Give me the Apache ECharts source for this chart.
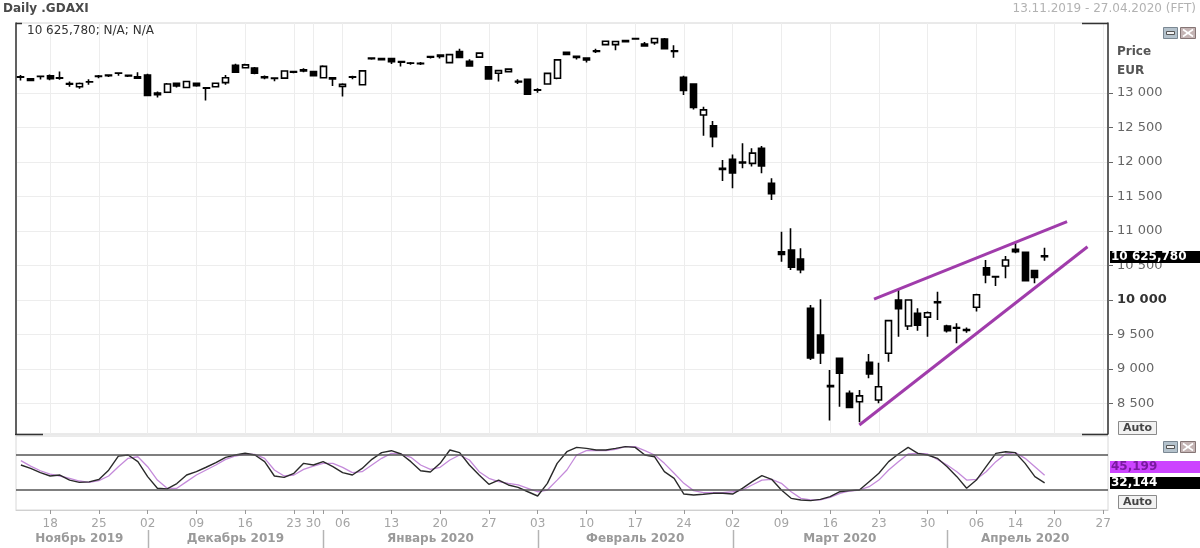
<!DOCTYPE html>
<html><head><meta charset="utf-8">
<script src="https://cdn.jsdelivr.net/npm/echarts@6/dist/echarts.min.js"></script>
<style>html,body{margin:0;padding:0;background:#fff}#c{width:1200px;height:548px}</style>
</head><body><div id="c"></div>
<script>
// ---- categories: Xetra trading days (incl. empty future days to 27.04.2020)
const dates = [
'2019-11-13','2019-11-14','2019-11-15','2019-11-18','2019-11-19','2019-11-20','2019-11-21','2019-11-22','2019-11-25','2019-11-26','2019-11-27','2019-11-28','2019-11-29',
'2019-12-02','2019-12-03','2019-12-04','2019-12-05','2019-12-06','2019-12-09','2019-12-10','2019-12-11','2019-12-12','2019-12-13','2019-12-16','2019-12-17','2019-12-18','2019-12-19','2019-12-20','2019-12-23','2019-12-27','2019-12-30',
'2020-01-02','2020-01-03','2020-01-06','2020-01-07','2020-01-08','2020-01-09','2020-01-10','2020-01-13','2020-01-14','2020-01-15','2020-01-16','2020-01-17','2020-01-20','2020-01-21','2020-01-22','2020-01-23','2020-01-24','2020-01-27','2020-01-28','2020-01-29','2020-01-30','2020-01-31',
'2020-02-03','2020-02-04','2020-02-05','2020-02-06','2020-02-07','2020-02-10','2020-02-11','2020-02-12','2020-02-13','2020-02-14','2020-02-17','2020-02-18','2020-02-19','2020-02-20','2020-02-21','2020-02-24','2020-02-25','2020-02-26','2020-02-27','2020-02-28',
'2020-03-02','2020-03-03','2020-03-04','2020-03-05','2020-03-06','2020-03-09','2020-03-10','2020-03-11','2020-03-12','2020-03-13','2020-03-16','2020-03-17','2020-03-18','2020-03-19','2020-03-20','2020-03-23','2020-03-24','2020-03-25','2020-03-26','2020-03-27','2020-03-30','2020-03-31',
'2020-04-01','2020-04-02','2020-04-03','2020-04-06','2020-04-07','2020-04-08','2020-04-09','2020-04-14','2020-04-15','2020-04-16','2020-04-17','2020-04-20','2020-04-21','2020-04-22','2020-04-23','2020-04-24','2020-04-27'
];
// ---- OHLC (Nov 13 .. Apr 17)
const opens = [13236,13205,13238,13250,13215,13135,13090,13160,13240,13250,13285,13255,13215,
13260,13000,13010,13140,13080,13140,13075,13090,13150,13400,13365,13360,13235,13215,13215,13310,13320,13310,
13220,13205,13095,13235,13120,13505,13500,13500,13445,13430,13425,13520,13530,13440,13600,13460,13520,13380,13285,13310,13170,13198,
13040,13130,13213,13590,13530,13505,13600,13700,13700,13760,13790,13710,13730,13780,13610,13228,13130,12680,12526,11910,
12040,11985,11980,12200,11691,10700,10725,10594,9880,9493,8760,9155,8648,8526,9097,8551,9228,10000,9623,9807,9751,9975,
9623,9590,9570,9894,10468,10333,10493,10734,10691,10425,10640];
const highs = [13262,13215,13245,13268,13310,13165,13150,13200,13260,13272,13290,13262,13300,
13280,13020,13145,13150,13175,13150,13080,13150,13260,13425,13425,13375,13255,13220,13325,13320,13360,13320,
13400,13225,13140,13250,13330,13510,13510,13505,13465,13450,13450,13540,13555,13560,13640,13490,13590,13390,13335,13355,13200,13205,
13070,13290,13485,13600,13532,13510,13640,13755,13750,13765,13795,13740,13795,13795,13690,13250,13140,12800,12594,12030,
12110,12270,12200,12232,11764,10990,11039,10749,9928,10010,8986,9160,8690,8696,9217,9091,9710,10155,10010,9880,9832,10120,
9640,9662,9600,10090,10580,10348,10638,10845,10700,10425,10758];
const lows = [13180,13170,13195,13185,13190,13090,13060,13120,13215,13230,13250,13230,13205,
12955,12935,13000,13080,13070,13090,12890,13080,13120,13290,13355,13270,13200,13170,13205,13285,13300,13240,
13210,13100,12948,13200,13110,13480,13470,13420,13385,13410,13405,13500,13500,13430,13510,13385,13510,13190,13165,13300,13130,12970,
13005,13120,13200,13550,13485,13440,13580,13690,13620,13735,13770,13675,13700,13630,13510,12970,12760,12380,12213,11725,
11620,11910,11933,11836,11449,10555,10435,10387,9130,9072,8255,8454,8430,8230,8865,8503,9106,9469,9565,9555,9469,9710,
9530,9372,9525,9832,10242,10203,10314,10677,10270,10242,10570];
const closes = [13230,13180,13242,13208,13221,13127,13138,13163,13247,13259,13287,13245,13236,
12965,12975,13130,13100,13166,13105,13070,13141,13221,13300,13407,13287,13222,13212,13318,13300,13337,13249,
13386,13219,13127,13227,13320,13495,13483,13452,13456,13432,13429,13526,13549,13555,13515,13390,13577,13205,13324,13345,13158,12982,
13046,13284,13479,13560,13514,13480,13610,13749,13745,13744,13783,13681,13789,13640,13600,13035,12790,12755,12367,11890,
11840,12000,12128,11944,11541,10660,10475,10438,9161,9232,8742,8939,8441,8610,8929,8742,9701,9874,10000,9633,9816,9960,
9555,9600,9560,10075,10362,10340,10580,10700,10280,10328,10625.78];
// ---- Slow stochastic (%K black, %D violet)
const stochK = [62.9,57,49.7,44,45.7,37,33,34,38,54,78,80,68.6,
43,23,22,31,45.7,51.4,59,67,76,80,83,80,68.6,44,41.7,48.6,65.7,62.9,
68.6,60,49.7,45.7,57,72.6,84,87.4,81.7,68.6,53,50.9,65.7,88.6,84,62.9,45.7,29.7,37,28.6,24.6,17,
9.7,31.4,65.7,85.7,93.1,91.4,88.6,88.6,91.4,94.3,93.1,80,77,51.4,40,13.1,11.4,12.6,14.3,14.3,
13.1,22.9,34.3,44.6,38.3,20,5.7,2.9,1.7,4,8.6,17,18.9,20,34.3,48.6,68.6,81.7,93.1,82.9,80,74.3,
60,42.9,22.9,37,60,82.9,85.7,84,65.7,42.9,32.144];
const stochD = [70.3,61,53,47.4,44,40,35.4,33,36,44,60,74.3,77,
60,37,22.9,22.9,34.3,45.7,54.3,62.9,72.6,78.3,81.7,81,74.3,54.3,44,45.7,55.4,61,
65.7,65.7,58.9,49.7,51.4,62.9,74.3,82.9,81.7,76,62.9,55.4,58.9,71.4,80,71.4,51.4,40,34.3,31.4,28.6,22.9,
17,20,37,54.3,80,87.4,87.4,87.4,89.7,94.3,94.3,87.4,80,65.7,48.6,31.4,18.9,15.4,15.4,15.4,
17,20,28.6,37,38.3,31.4,17,5.7,2.9,2.9,7.4,14.3,18.3,20,25.7,37,54.3,68.6,81.7,82.9,81.7,72.6,
62.9,51.4,37,38.3,51.4,68.6,81.7,84,74.3,60,45.199];
const stochLevels = [80, 20];
// ---- trendlines drawn on the chart: [category position, price]
const upperTrend = [[87.5, 10014], [107.3, 11135]];
const lowerTrend = [[86.0, 8188], [109.4, 10772]];
// ---- tick labels
const priceTicks = [8500, 9000, 9500, 10000, 10500, 11000, 11500, 12000, 12500, 13000];
const weekStarts = ['2019-11-18','2019-11-25','2019-12-02','2019-12-09','2019-12-16','2019-12-23','2019-12-30','2020-01-06','2020-01-13','2020-01-20','2020-01-27','2020-02-03','2020-02-10','2020-02-17','2020-02-24','2020-03-02','2020-03-09','2020-03-16','2020-03-23','2020-03-30','2020-04-06','2020-04-14','2020-04-20','2020-04-27'];
const monthStarts = ['2019-12-02','2020-01-02','2020-02-03','2020-03-02','2020-04-01'];
const monthKeys = ['2019-11','2019-12','2020-01','2020-02','2020-03','2020-04'];
const monthNames = ['Ноябрь 2019','Декабрь 2019','Январь 2020','Февраль 2020','Март 2020','Апрель 2020'];

const FONT = 'DejaVu Sans';
const weekSet = new Set(weekStarts), monthSet = new Set(monthStarts);
const monthMid = new Map();
monthKeys.forEach((k, m) => {
  const idx = []; dates.forEach((d, i) => { if (d.startsWith(k)) idx.push(i); });
  monthMid.set(Math.round((idx[0] + idx[idx.length - 1]) / 2), monthNames[m]);
});
const fmtThousands = v => String(v).replace(/\B(?=(\d{3})+(?!\d))/g, ' ');
const fmtDec = (v, d) => { const p = v.toFixed(d).split('.'); return fmtThousands(p[0]) + ',' + p[1]; };

const candles = closes.map((c, i) => [opens[i], c, lows[i], highs[i]]);

const chart = echarts.init(document.getElementById('c'));
chart.setOption({
  animation: false,
  backgroundColor: '#fff',
  grid: [
    {left: 16, right: 92, top: 23, height: 411, show: true, borderColor: '#d4d4d4', borderWidth: 1},
    {left: 16, right: 92, top: 436, height: 74, show: true, borderColor: '#d8d8d8', borderWidth: 1}
  ],
  xAxis: [
    {type: 'category', gridIndex: 0, data: dates, axisLine: {show: false, onZero: false}, axisTick: {show: false}, axisLabel: {show: false},
     splitLine: {show: true, alignWithLabel: true, interval: (i, v) => weekSet.has(v), lineStyle: {color: '#ededed'}}},
    {type: 'category', gridIndex: 1, data: dates, axisLine: {show: true, onZero: false, lineStyle: {color: '#d0d0d0'}},
     axisTick: {show: true, alignWithLabel: true, interval: (i, v) => weekSet.has(v) || monthSet.has(v), length: 4, lineStyle: {color: '#999'}},
     axisLabel: {interval: (i, v) => weekSet.has(v), formatter: v => v.slice(8), color: '#a4a4a4', fontSize: 12, fontFamily: FONT, margin: 8}},
    {type: 'value', gridIndex: 0, min: -0.5, max: dates.length - 0.5, show: false},
    {type: 'category', gridIndex: 1, data: dates, position: 'bottom', offset: 20, axisLine: {show: false, onZero: false}, axisTick: {show: false},
     axisLabel: {interval: (i) => monthMid.has(i), formatter: (v, i) => monthMid.get(i) || '', color: '#9a9a9a', fontWeight: 'bold', fontSize: 12, fontFamily: FONT, margin: 3}}
  ],
  yAxis: [
    {type: 'value', gridIndex: 0, position: 'right', min: 8058, max: 14014,
     axisLine: {show: true, onZero: false, lineStyle: {color: '#333', width: 1.5}},
     axisTick: {show: true, customValues: priceTicks, length: 5, lineStyle: {color: '#666'}},
     axisLabel: {customValues: priceTicks, margin: 9, formatter: v => v === 10000 ? '{b|' + fmtThousands(v) + '}' : '{n|' + fmtThousands(v) + '}',
       rich: {n: {color: '#666', fontSize: 13, fontFamily: FONT}, b: {color: '#333', fontSize: 13, fontWeight: 'bold', fontFamily: FONT}}},
     splitLine: {show: true, lineStyle: {color: '#ededed'}}},
    {type: 'value', gridIndex: 0, position: 'left', min: 8058, max: 14014,
     axisLine: {show: true, onZero: false, lineStyle: {color: '#333', width: 1.5}}, axisTick: {show: false}, axisLabel: {show: false}, splitLine: {show: false}},
    {type: 'value', gridIndex: 1, position: 'right', min: -14.3, max: 112.6,
     axisLine: {show: false, onZero: false}, axisTick: {show: false}, axisLabel: {show: false}, splitLine: {show: false}}
  ],
  series: [
    {type: 'candlestick', xAxisIndex: 0, yAxisIndex: 0, data: candles, barWidth: '68%',
     itemStyle: {color: '#fff', color0: '#000', borderColor: '#000', borderColor0: '#000', borderColorDoji: '#000', borderWidth: 1.6},
     emphasis: {disabled: true}},
    {type: 'line', xAxisIndex: 2, yAxisIndex: 0, data: upperTrend, symbol: 'none', lineStyle: {color: '#a03cab', width: 3}},
    {type: 'line', xAxisIndex: 2, yAxisIndex: 0, data: lowerTrend, symbol: 'none', lineStyle: {color: '#a03cab', width: 3}},
    {type: 'line', xAxisIndex: 1, yAxisIndex: 2, data: stochD, symbol: 'none', lineStyle: {color: '#c48ada', width: 1.3}},
    {type: 'line', xAxisIndex: 1, yAxisIndex: 2, data: stochK, symbol: 'none', lineStyle: {color: '#2a2a2a', width: 1.4},
     markLine: {silent: true, symbol: 'none', label: {show: false}, lineStyle: {color: '#555', width: 1.5, type: 'solid'},
       data: stochLevels.map(v => ({yAxis: v}))}}
  ]
});

// ---- decorations and value boxes
const lastClose = closes[closes.length - 1], lastK = stochK[stochK.length - 1], lastD = stochD[stochD.length - 1];
const yP = v => chart.convertToPixel({yAxisIndex: 0}, v);
const yS = v => chart.convertToPixel({yAxisIndex: 2}, v);
const xS = d => chart.convertToPixel({xAxisIndex: 1}, d);
const G = [];
const txt = (text, x, y, font, fill, align) => G.push({type: 'text', z: 100, x, y, style: {text, font, fill, align: align || 'left', verticalAlign: 'middle'}});
const line = (x1, y1, x2, y2, stroke, w) => G.push({type: 'line', z: 100, shape: {x1, y1, x2, y2}, style: {stroke, lineWidth: w || 1.5}});
const rect = (x, y, width, height, fill, stroke) => G.push({type: 'rect', z: 100, shape: {x, y, width, height}, style: {fill, stroke: stroke || null, lineWidth: 1}});
const box = (text, cy, bg, fg) => { rect(1110, cy - 6, 90, 12, bg); txt(text, 1111, cy, 'bold 12px ' + FONT, fg); };
const button = (y) => { rect(1118.5, y + 0.5, 38, 13, '#f2f2f2', '#8a8a8a'); txt('Auto', 1137.5, y + 7.5, 'bold 11px ' + FONT, '#444', 'center'); };
const icons = (y) => {
  rect(1163.5, y + 0.5, 14, 11, '#b4c2cc', '#7b8893'); rect(1166.5, y + 4.5, 8, 3, '#f4f4f4', '#555');
  rect(1180.5, y + 0.5, 15, 11, '#c4b4b4', '#857575');
  line(1183, y + 2.5, 1193, y + 9.5, '#fff', 1.6); line(1193, y + 2.5, 1183, y + 9.5, '#fff', 1.6);
};
txt('Daily .GDAXI', 3, 9, 'bold 12px ' + FONT, '#4a4a4a');
txt('13.11.2019 - 27.04.2020 (FFT)', 1196, 9, '12px ' + FONT, '#b2b2b2', 'right');
txt(fmtDec(lastClose, 3) + '; N/A; N/A', 27, 31, '12px ' + FONT, '#333');
txt('Price', 1117, 52, 'bold 12px ' + FONT, '#555');
txt('EUR', 1117, 71, 'bold 12px ' + FONT, '#555');
line(16, 23.5, 22, 23.5, '#333'); line(15, 434.5, 43, 434.5, '#333');
line(1082, 23.5, 1108, 23.5, '#333'); line(1082, 434.5, 1108, 434.5, '#333');
monthStarts.forEach(d => { const x = Math.round(xS(d)) + 0.5; line(x, 530, x, 548, '#b4b4b4', 1.5); });
box(fmtDec(lastClose, 3), Math.round(yP(lastClose)), '#000', '#fff');
box(fmtDec(lastD, 3), Math.round(yS(lastD)) - 8, '#cc44ff', '#7a1aa0');
box(fmtDec(lastK, 3), Math.round(yS(lastK)), '#000', '#fff');
button(421); button(495);
icons(27); icons(441);
chart.setOption({graphic: G});
</script></body></html>
